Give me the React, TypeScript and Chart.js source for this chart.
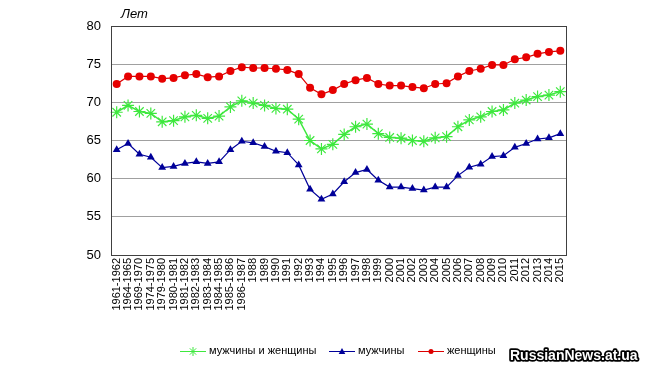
import React, { useEffect, useRef } from "react";
import { Chart, registerables } from "chart.js";

Chart.register(...registerables);

const categories = [
  "1961-1962", "1964-1965", "1969-1970", "1974-1975", "1979-1980", "1980-1981",
  "1981-1982", "1982-1983", "1983-1984", "1984-1985", "1985-1986", "1986-1987",
  "1988", "1989", "1990", "1991", "1992", "1993", "1994", "1995", "1996", "1997",
  "1998", "1999", "2000", "2001", "2002", "2003", "2004", "2005", "2006", "2007",
  "2008", "2009", "2010", "2011", "2012", "2013", "2014", "2015",
];

const both = [
  68.7, 69.6, 68.8, 68.55, 67.45, 67.6, 68.1, 68.3, 67.9, 68.2, 69.4, 70.2,
  69.9, 69.6, 69.2, 69.1, 67.8, 65.0, 63.9, 64.5, 65.8, 66.8, 67.15, 65.9,
  65.4, 65.3, 65.0, 64.9, 65.35, 65.5, 66.8, 67.7, 68.1, 68.8, 69.0, 69.9,
  70.3, 70.75, 70.95, 71.4,
];

const men = [
  63.8, 64.6, 63.2, 62.8, 61.45, 61.6, 62.0, 62.2, 62.0, 62.2, 63.8, 64.9,
  64.7, 64.2, 63.6, 63.4, 61.8, 58.6, 57.3, 58.0, 59.6, 60.8, 61.2, 59.8,
  58.9, 58.9, 58.7, 58.5, 58.9, 58.9, 60.4, 61.5, 61.9, 62.9, 63.0, 64.1,
  64.6, 65.2, 65.35, 65.9,
];

const women = [
  72.4, 73.4, 73.4, 73.4, 73.1, 73.2, 73.55, 73.7, 73.3, 73.4, 74.1, 74.6,
  74.5, 74.5, 74.4, 74.25, 73.7, 71.9, 71.05, 71.6, 72.4, 72.9, 73.2, 72.4,
  72.2, 72.2, 72.0, 71.85, 72.4, 72.5, 73.4, 74.1, 74.4, 74.9, 74.9, 75.65,
  75.9, 76.35, 76.6, 76.75,
];

const yTicks = [50, 55, 60, 65, 70, 75, 80];

const seriesNames = ["мужчины и женщины", "мужчины", "женщины"];
const unitLabel = "Лет";
const watermark = "RussianNews.at.ua";

const FONT = "'Liberation Sans', Arial, sans-serif";

const GREEN = "#3ee83e";
const BLUE = "#000099";
const RED = "#dd0000";

const overlayPlugin = {
  id: "overlay",
  afterDraw(chart: any) {
    const ctx = chart.ctx;
    const a = chart.chartArea;
    ctx.save();
    // plot border
    ctx.strokeStyle = "#404040";
    ctx.lineWidth = 1;
    ctx.strokeRect(Math.round(a.left) + 0.5, Math.round(a.top) + 0.5, Math.round(a.right - a.left), Math.round(a.bottom - a.top));
    // unit label
    ctx.fillStyle = "#000";
    ctx.font = `italic 13px ${FONT}`;
    ctx.textBaseline = "middle";
    ctx.textAlign = "left";
    ctx.fillText(unitLabel, 121, 14);

    // legend
    const items = [
      { x: 180, color: GREEN, style: "star", r: 4.5, text: seriesNames[0] },
      { x: 329, color: BLUE, style: "triangle", r: 3, text: seriesNames[1] },
      { x: 418, color: RED, style: "circle", r: 2.5, text: seriesNames[2] },
    ];
    const ly = 351;
    ctx.font = `11px ${FONT}`;
    items.forEach((it) => {
      ctx.strokeStyle = it.color;
      ctx.fillStyle = it.color;
      ctx.lineWidth = 1;
      ctx.beginPath();
      ctx.moveTo(it.x, ly + 0.5);
      ctx.lineTo(it.x + 26, ly + 0.5);
      ctx.stroke();
      (Chart as any).helpers
        ? null
        : null;
      drawMarker(ctx, it.style, it.r, it.x + 13, ly + 0.5, it.color);
      ctx.fillStyle = "#000";
      ctx.textAlign = "left";
      ctx.textBaseline = "middle";
      ctx.fillText(it.text, it.x + 29, ly);
    });

    // watermark
    ctx.font = `bold 14px ${FONT}`;
    ctx.textAlign = "left";
    ctx.textBaseline = "middle";
    ctx.lineJoin = "round";
    ctx.lineWidth = 3.5;
    ctx.strokeStyle = "#000";
    ctx.strokeText(watermark, 510, 356);
    ctx.fillStyle = "#fff";
    ctx.fillText(watermark, 510, 356);
    ctx.restore();
  },
};

function drawMarker(ctx: CanvasRenderingContext2D, style: string, r: number, x: number, y: number, color: string) {
  ctx.save();
  ctx.strokeStyle = color;
  ctx.fillStyle = color;
  ctx.beginPath();
  if (style === "circle") {
    ctx.arc(x, y, r, 0, Math.PI * 2);
    ctx.fill();
  } else if (style === "triangle") {
    ctx.moveTo(x, y - r * 1.2);
    ctx.lineTo(x + r * 1.1, y + r * 0.8);
    ctx.lineTo(x - r * 1.1, y + r * 0.8);
    ctx.closePath();
    ctx.fill();
  } else {
    for (let i = 0; i < 4; i++) {
      const ang = (i * Math.PI) / 4;
      ctx.moveTo(x + Math.sin(ang) * r, y - Math.cos(ang) * r);
      ctx.lineTo(x - Math.sin(ang) * r, y + Math.cos(ang) * r);
    }
    ctx.stroke();
  }
  ctx.restore();
}

export default function App() {
  const ref = useRef<HTMLCanvasElement | null>(null);
  useEffect(() => {
    if (!ref.current) return;
    const chart = new Chart(ref.current, {
      type: "line",
      data: {
        labels: categories,
        datasets: [
          {
            label: seriesNames[0],
            data: both,
            borderColor: GREEN,
            backgroundColor: GREEN,
            borderWidth: 1.5,
            pointStyle: "star",
            pointRadius: 6,
            pointBorderWidth: 1.2,
            pointBorderColor: GREEN,
            tension: 0,
          },
          {
            label: seriesNames[1],
            data: men,
            borderColor: BLUE,
            backgroundColor: BLUE,
            borderWidth: 1.2,
            pointStyle: "triangle",
            pointRadius: 4.5,
            pointBorderWidth: 0,
            tension: 0,
          },
          {
            label: seriesNames[2],
            data: women,
            borderColor: RED,
            backgroundColor: "#e60000",
            borderWidth: 1.2,
            pointStyle: "circle",
            pointRadius: 4,
            pointBorderWidth: 0,
            tension: 0,
          },
        ],
      },
      options: {
        responsive: false,
        animation: false,
        layout: { padding: { left: 0, right: 84, top: 26, bottom: 0 } },
        plugins: {
          legend: { display: false },
          tooltip: { enabled: false },
        },
        scales: {
          x: {
            offset: true,
            grid: { display: false, drawTicks: false },
            border: { display: false },
            ticks: {
              autoSkip: false,
              minRotation: 90,
              maxRotation: 90,
              padding: 3,
              color: "#000",
              font: { family: FONT, size: 11 },
            },
            afterFit(scale: any) {
              scale.height = 116;
            },
          },
          y: {
            min: 50,
            max: 80,
            afterBuildTicks(scale: any) {
              scale.ticks = yTicks.map((v) => ({ value: v }));
            },
            grid: { color: "#a0a0a0", drawTicks: false, lineWidth: 1 },
            border: { display: false },
            ticks: {
              padding: 10,
              color: "#000",
              font: { family: FONT, size: 13 },
            },
            afterFit(scale: any) {
              scale.width = 111;
            },
          },
        },
      },
      plugins: [overlayPlugin],
    });
    return () => chart.destroy();
  }, []);
  return (
    <div style={{ position: "fixed", left: 0, top: 0, width: 650, height: 371, background: "#fff" }}>
      <canvas ref={ref} width={650} height={371} style={{ display: "block" }} />
    </div>
  );
}
